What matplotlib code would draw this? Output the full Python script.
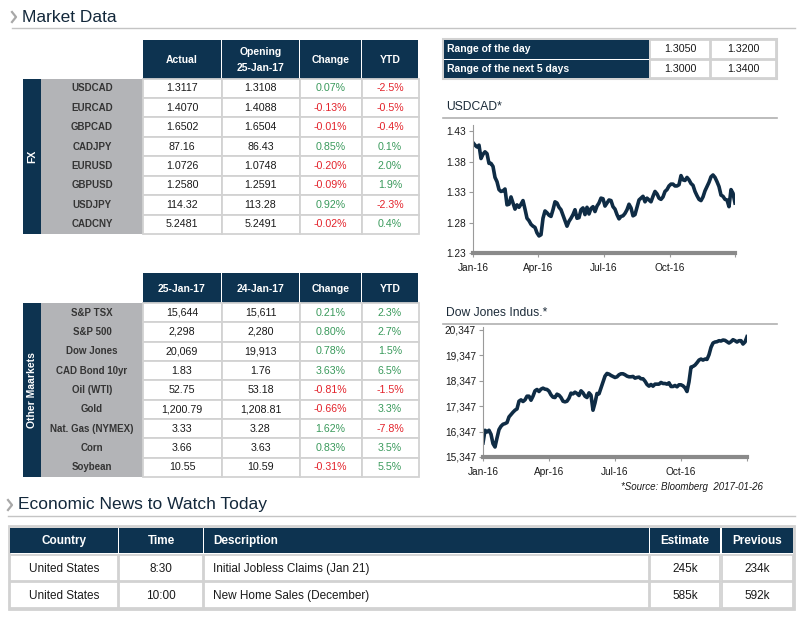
import matplotlib
matplotlib.use("Agg")
import matplotlib.pyplot as plt
from matplotlib.patches import Rectangle
import matplotlib.dates as mdates
import numpy as np
import pandas as pd

# ---- data -----------------------------------------------------------------
fx_pairs = ["USDCAD", "EURCAD", "GBPCAD", "CADJPY", "EURUSD", "GBPUSD", "USDJPY", "CADCNY"]
fx_actual = ["1.3117", "1.4070", "1.6502", "87.16", "1.0726", "1.2580", "114.32", "5.2481"]
fx_opening = ["1.3108", "1.4088", "1.6504", "86.43", "1.0748", "1.2591", "113.28", "5.2491"]
fx_change = [0.07, -0.13, -0.01, 0.85, -0.20, -0.09, 0.92, -0.02]
fx_ytd = [-2.5, -0.5, -0.4, 0.1, 2.0, 1.9, -2.3, 0.4]
fx_headers = ["Actual", "Opening\n25-Jan-17", "Change", "YTD"]

mkt_names = ["S&P TSX", "S&P 500", "Dow Jones", "CAD Bond 10yr", "Oil (WTI)", "Gold",
             "Nat. Gas (NYMEX)", "Corn", "Soybean"]
mkt_today = ["15,644", "2,298", "20,069", "1.83", "52.75", "1,200.79", "3.33", "3.66", "10.55"]
mkt_prev = ["15,611", "2,280", "19,913", "1.76", "53.18", "1,208.81", "3.28", "3.63", "10.59"]
mkt_change = [0.21, 0.80, 0.78, 3.63, -0.81, -0.66, 1.62, 0.83, -0.31]
mkt_ytd = [2.3, 2.7, 1.5, 6.5, -1.5, 3.3, -7.8, 3.5, 5.5]
mkt_headers = ["25-Jan-17", "24-Jan-17", "Change", "YTD"]

range_labels = ["Range of the day", "Range of the next 5 days"]
range_low = ["1.3050", "1.3000"]
range_high = ["1.3200", "1.3400"]

news_headers = ["Country", "Time", "Description", "Estimate", "Previous"]
news_country = ["United States", "United States"]
news_time = ["8:30", "10:00"]
news_desc = ["Initial Jobless Claims (Jan 21)", "New Home Sales (December)"]
news_estimate = ["245k", "585k"]
news_previous = ["234k", "592k"]

# USDCAD (roughly every 2-3 trading days)
usdcad = [1.411, 1.407, 1.404, 1.407, 1.385, 1.392, 1.396, 1.393, 1.377, 1.377,
          1.372, 1.354, 1.347, 1.334, 1.331, 1.332, 1.335, 1.309, 1.310, 1.322,
          1.312, 1.302, 1.309, 1.305, 1.310, 1.316, 1.302, 1.287, 1.283, 1.277,
          1.274, 1.272, 1.263, 1.258, 1.260, 1.287, 1.299, 1.296, 1.292, 1.290,
          1.301, 1.314, 1.312, 1.305, 1.301, 1.292, 1.283, 1.274, 1.282, 1.287,
          1.293, 1.301, 1.287, 1.288, 1.301, 1.304, 1.293, 1.305, 1.294, 1.303,
          1.306, 1.298, 1.307, 1.312, 1.320, 1.319, 1.307, 1.312, 1.317, 1.316,
          1.306, 1.302, 1.293, 1.286, 1.290, 1.291, 1.295, 1.301, 1.310, 1.304,
          1.291, 1.293, 1.305, 1.317, 1.320, 1.323, 1.314, 1.320, 1.317, 1.314,
          1.323, 1.331, 1.327, 1.320, 1.318, 1.322, 1.331, 1.334, 1.340, 1.343,
          1.343, 1.340, 1.340, 1.342, 1.357, 1.350, 1.349, 1.354, 1.350, 1.344,
          1.341, 1.331, 1.324, 1.318, 1.316, 1.322, 1.332, 1.339, 1.346, 1.355,
          1.358, 1.354, 1.347, 1.339, 1.325, 1.323, 1.318, 1.317, 1.306, 1.334,
          1.328, 1.312]

# Dow Jones Industrial Average
dow = [15900, 16399, 16333, 16399, 16241, 15873, 15741, 16096, 16425, 16557,
       16636, 16662, 16702, 16925, 17018, 17110, 17189, 17241, 17544, 17597,
       17531, 17597, 17741, 17741, 17583, 17741, 17952, 18005, 17926, 18018,
       18057, 18018, 18005, 17939, 17794, 17702, 17689, 17820, 17781, 17689,
       17544, 17518, 17544, 17662, 17860, 17833, 17899, 17847, 17768, 17952,
       17873, 17741, 17689, 17873, 17781, 17189, 17478, 17847, 17833, 18070,
       18294, 18531, 18636, 18610, 18557, 18518, 18478, 18505, 18584, 18623,
       18623, 18584, 18531, 18505, 18505, 18518, 18452, 18478, 18491, 18426,
       18426, 18334, 18202, 18136, 18202, 18136, 18215, 18215, 18215, 18281,
       18241, 18241, 18215, 18268, 18123, 18123, 18162, 18110, 18189, 18189,
       18149, 18070, 17926, 18307, 18886, 18913, 18965, 19057, 19163, 19202,
       19163, 19202, 19189, 19373, 19663, 19834, 19873, 19886, 19926, 19913,
       19952, 19939, 19886, 19834, 19886, 19965, 19926, 19873, 19926, 19926,
       19794, 19873, 20084]

usdcad_ticks = [1.23, 1.28, 1.33, 1.38, 1.43]
dow_ticks = [15347, 16347, 17347, 18347, 19347, 20347]
quarter_starts = ["2016-01-01", "2016-04-01", "2016-07-01", "2016-10-01"]

# ---- style ----------------------------------------------------------------
NAVY = "#0d3350"
BAND = "#b3b4b7"
GRID = "#d2d2d2"
GREEN = "#3a9a5c"
RED = "#e3232b"
LINE = "#0f2c45"
TXT = "#1a1a1a"
FONT = ["Liberation Sans", "DejaVu Sans"]
plt.rcParams["font.family"] = FONT

fig = plt.figure(figsize=(8, 6.18), dpi=100)
bg = fig.add_axes([0, 0, 1, 1])
bg.set_xlim(0, 800)
bg.set_ylim(618, 0)
bg.axis("off")


def box(x0, y0, x1, y1, fc, ec="none", lw=0):
    bg.add_patch(Rectangle((x0, y0), x1 - x0, y1 - y0, facecolor=fc,
                           edgecolor=ec, linewidth=lw))


def section_title(x, y, text, x_end):
    bg.plot([x, x + 4, x], [y - 5, y, y + 5], color="#a8a8a8", lw=1.6)
    bg.text(x + 10, y, text, fontsize=12.5, color="#13283b", va="center", ha="left")
    bg.plot([x, x_end], [y + 11, y + 11], color="#c4c4c4", lw=1)


section_title(12, 17, "Market Data", 795)


def market_table(top, head_bot, body_bot, headers, names, c1, c2, chg, ytd, side):
    cols = [(143, 221), (222, 299), (300, 361), (362, 418)]
    for (x0, x1), h in zip(cols, headers):
        box(x0, top, x1, head_bot, NAVY)
        bg.text((x0 + x1) / 2, (top + head_bot) / 2 + 0.5, h, color="white",
                fontsize=7.5, fontweight="bold", ha="center", va="center",
                linespacing=1.7)
    n = len(names)
    rh = (body_bot - head_bot) / n
    box(23, head_bot, 41, body_bot, NAVY)
    box(41, head_bot, 143, body_bot, BAND)
    bg.text(32, (head_bot + body_bot) / 2, side, rotation=90, color="white",
            fontsize=7.5, fontweight="bold", ha="center", va="center")
    for i in range(n):
        y0 = head_bot + i * rh
        yc = y0 + rh / 2
        bg.text(92, yc, names[i], fontsize=7, fontweight="bold", color="#353535",
                ha="center", va="center")
        vals = [c1[i], c2[i], f"{chg[i]:.2f}%", f"{ytd[i]:.1f}%"]
        cols_c = [TXT, TXT, GREEN if chg[i] >= 0 else RED, GREEN if ytd[i] >= 0 else RED]
        for (x0, x1), v, c in zip(cols, vals, cols_c):
            box(x0, y0, x1 + 1, y0 + rh, "white", ec=GRID, lw=1.3)
            bg.text((x0 + x1) / 2, yc, v, fontsize=7.7, color=c,
                    ha="center", va="center")


market_table(40, 78.5, 234, fx_headers, fx_pairs, fx_actual, fx_opening,
             fx_change, fx_ytd, "FX")
market_table(273, 303, 477, mkt_headers, mkt_names, mkt_today, mkt_prev,
             mkt_change, mkt_ytd, "Other Maarkets")

# range box
box(443, 39, 777, 79, "white", ec=GRID, lw=1.5)
for i, lab in enumerate(range_labels):
    y0 = 40 + i * 19.5
    box(444, y0, 649, y0 + 18.5, NAVY)
    bg.text(447, y0 + 9.5, lab, color="white", fontsize=7.5, fontweight="bold",
            ha="left", va="center")
    for (x0, x1), v in zip([(650, 710), (711, 776)], [range_low[i], range_high[i]]):
        box(x0, y0, x1, y0 + 18.5, "white", ec=GRID, lw=1.3)
        bg.text((x0 + x1) / 2, y0 + 9.5, v, fontsize=7.7, color=TXT,
                ha="center", va="center")

# chart titles
for y, title in [(107, "USDCAD*"), (313, "Dow Jones Indus.*")]:
    bg.text(446, y, title, fontsize=8.7, color="#1c2b39", ha="left", va="center")
    bg.plot([443, 777], [y + 11, y + 11], color="#b0b0b0", lw=1.2)

bg.text(763, 487, "*Source: Bloomberg  2017-01-26", fontsize=7, style="italic",
        color=TXT, ha="right", va="center")


def line_chart(rect, values, ticks, fmt, ylim):
    ax = fig.add_axes(rect)
    dates = pd.date_range("2016-01-01", "2016-12-31", periods=len(values))
    ax.plot(dates, values, color=LINE, lw=2.6, solid_joinstyle="round")
    ax.set_xlim(dates[0], dates[-1])
    ax.set_ylim(*ylim)
    ax.set_yticks(ticks)
    ax.set_yticklabels([fmt(t) for t in ticks])
    ax.set_xticks(list(pd.to_datetime(quarter_starts)) + [dates[-1]])
    ax.xaxis.set_major_formatter(mdates.DateFormatter("%b-%y"))
    labels = [pd.Timestamp(q).strftime("%b-%y") for q in quarter_starts] + [""]
    ax.set_xticklabels(labels)
    for s in ["top", "right"]:
        ax.spines[s].set_visible(False)
    ax.spines["left"].set_color("#9a9a9a")
    ax.spines["left"].set_linewidth(0.8)
    ax.spines["bottom"].set_color("#8a8a8a")
    ax.spines["bottom"].set_linewidth(3)
    ax.tick_params(axis="y", length=3, width=0.8, color="#9a9a9a", pad=2,
                   labelsize=7.3, labelcolor=TXT)
    ax.tick_params(axis="x", length=3, width=0.8, color="#9a9a9a", pad=4.5,
                   labelsize=7.3, labelcolor=TXT)
    ax.patch.set_alpha(0)
    return ax


line_chart([473 / 800, 1 - 253 / 618, 262 / 800, 128 / 618], usdcad, usdcad_ticks,
           lambda t: f"{t:.2f}", (1.23, 1.44))
line_chart([483 / 800, 1 - 457 / 618, 264 / 800, 130 / 618], dow, dow_ticks,
           lambda t: f"{t:,.0f}", (15347, 20465))

# economic news
section_title(8, 505, "Economic News to Watch Today", 795)
box(9, 526, 794, 609, "white", ec=GRID, lw=2)
news_cols = [(10, 118), (119, 203), (204, 649), (650, 720), (722, 793)]
news_rows = [news_country, news_time, news_desc, news_estimate, news_previous]
for j, ((x0, x1), h) in enumerate(zip(news_cols, news_headers)):
    box(x0, 528, x1, 553, NAVY)
    left = j == 2
    bg.text(x0 + 9 if left else (x0 + x1) / 2, 541, h, color="white", fontsize=8.5,
            fontweight="bold", ha="left" if left else "center", va="center")
    for i in range(len(news_country)):
        y0 = 555 + i * 27
        box(x0, y0, x1, y0 + 26, "white", ec=GRID, lw=1.3)
        bg.text(x0 + 9 if left else (x0 + x1) / 2, y0 + 14, news_rows[j][i],
                color=TXT, fontsize=8.5, ha="left" if left else "center", va="center")

fig.savefig("out.png", dpi=100)
